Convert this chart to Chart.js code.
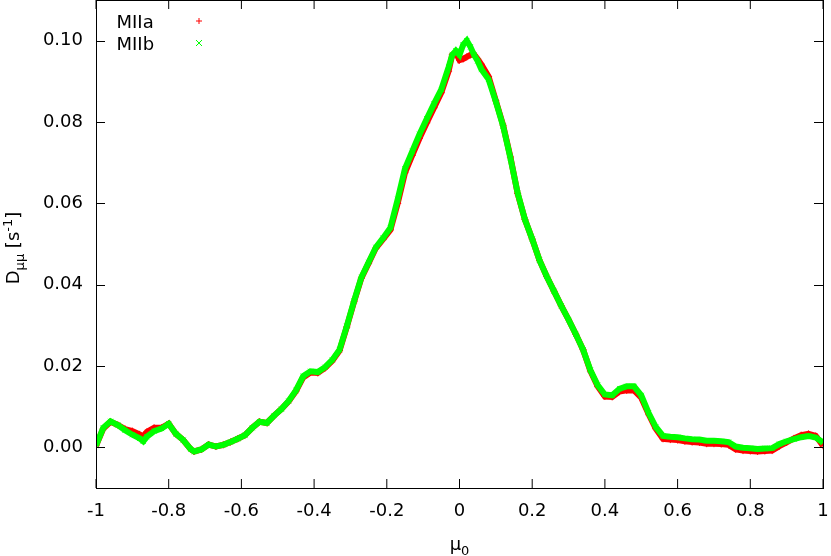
<!DOCTYPE html>
<html><head><meta charset="utf-8">
<script src="https://cdn.jsdelivr.net/npm/chart.js@4/dist/chart.umd.min.js"></script>
<style>html,body{margin:0;padding:0;background:#fff}#wrap{width:831px;height:556px;position:relative}</style>
</head><body><div id="wrap"><canvas id="c"></canvas></div>
<script>
// ---- data ----
const mu = [-1.00,-0.98,-0.96,-0.94,-0.92,-0.90,-0.88,-0.87,-0.86,-0.84,-0.82,-0.80,-0.78,-0.76,-0.74,-0.73,-0.71,-0.69,-0.67,-0.65,-0.63,-0.61,-0.59,-0.57,-0.55,-0.53,-0.51,-0.49,-0.47,-0.45,-0.43,-0.41,-0.39,-0.37,-0.35,-0.33,-0.31,-0.29,-0.27,-0.25,-0.23,-0.21,-0.19,-0.17,-0.15,-0.13,-0.11,-0.09,-0.07,-0.05,-0.03,-0.02,-0.01,0.00,0.01,0.02,0.03,0.04,0.05,0.06,0.08,0.10,0.12,0.14,0.16,0.18,0.20,0.22,0.24,0.26,0.28,0.30,0.32,0.34,0.36,0.38,0.40,0.42,0.44,0.46,0.48,0.50,0.52,0.54,0.56,0.58,0.60,0.62,0.64,0.66,0.68,0.70,0.72,0.74,0.76,0.78,0.80,0.82,0.84,0.86,0.88,0.90,0.92,0.94,0.96,0.98,1.00];
const miiA = [0.0004,0.0046,0.0063,0.0055,0.0045,0.0040,0.0032,0.0027,0.0038,0.0048,0.0048,0.0058,0.0033,0.0018,-0.0004,-0.0010,-0.0005,0.0007,0.0002,0.0006,0.0013,0.0021,0.0030,0.0048,0.0063,0.0060,0.0078,0.0094,0.0113,0.0138,0.0172,0.0184,0.0183,0.0195,0.0213,0.0238,0.0296,0.0358,0.0416,0.0453,0.0490,0.0512,0.0535,0.0600,0.0675,0.0718,0.0760,0.0798,0.0835,0.0872,0.0925,0.0965,0.0970,0.0952,0.0955,0.0960,0.0965,0.0966,0.0955,0.0942,0.0912,0.0852,0.0792,0.0714,0.0624,0.0560,0.0512,0.0460,0.0420,0.0384,0.0348,0.0314,0.0278,0.0240,0.0188,0.0150,0.0125,0.0124,0.0137,0.0140,0.0140,0.0122,0.0082,0.0046,0.0021,0.0019,0.0018,0.0015,0.0013,0.0012,0.0009,0.0009,0.0008,0.0006,-0.0005,-0.0008,-0.0009,-0.0010,-0.0009,-0.0008,0.0003,0.0012,0.0022,0.0030,0.0033,0.0028,0.0004];
const miiB = [0.0004,0.0048,0.0064,0.0055,0.0042,0.0031,0.0022,0.0015,0.0026,0.0040,0.0046,0.0058,0.0033,0.0018,-0.0004,-0.0010,-0.0005,0.0007,0.0002,0.0006,0.0013,0.0021,0.0030,0.0048,0.0063,0.0060,0.0078,0.0094,0.0114,0.0140,0.0175,0.0187,0.0185,0.0197,0.0215,0.0240,0.0298,0.0360,0.0418,0.0455,0.0492,0.0515,0.0540,0.0610,0.0685,0.0728,0.0770,0.0808,0.0845,0.0880,0.0935,0.0965,0.0975,0.0965,0.0990,0.1000,0.0985,0.0965,0.0950,0.0930,0.0905,0.0850,0.0790,0.0712,0.0625,0.0560,0.0512,0.0460,0.0420,0.0384,0.0348,0.0314,0.0278,0.0240,0.0190,0.0153,0.0130,0.0128,0.0144,0.0150,0.0150,0.0128,0.0085,0.0050,0.0028,0.0026,0.0025,0.0022,0.0020,0.0019,0.0016,0.0016,0.0015,0.0013,0.0002,-0.0001,-0.0002,-0.0004,-0.0003,-0.0002,0.0008,0.0015,0.0020,0.0025,0.0028,0.0024,0.0012];
const seriesNames = ['MIIa','MIIb'];
const xTicks = [-1,-0.8,-0.6,-0.4,-0.2,0,0.2,0.4,0.6,0.8,1];
const yTicks = [0,0.02,0.04,0.06,0.08,0.10];
const xRange = [-1, 1];
const yRange = [-0.01, 0.11];

const RED = '#ff0000', GREEN = '#00ff00';
const FONT = '"DejaVu Sans", sans-serif';
const toPts = (ys) => mu.map((m, i) => ({x: m, y: ys[i]}));

function drawRich(ctx, parts) {
  let total = 0;
  for (const p of parts) { ctx.font = p.size + 'px ' + FONT; total += ctx.measureText(p.t).width; }
  let cx = -total / 2;
  for (const p of parts) {
    ctx.font = p.size + 'px ' + FONT;
    ctx.fillText(p.t, cx, p.dy);
    cx += ctx.measureText(p.t).width;
  }
}

const framePlugin = {
  id: 'frame',
  afterDraw(chart) {
    const {ctx, chartArea: a, scales: {x, y}} = chart;
    ctx.save();
    ctx.strokeStyle = '#000';
    ctx.lineWidth = 1;
    ctx.strokeRect(a.left + 0.5, a.top + 0.5, a.right - a.left, a.bottom - a.top);
    const tl = 9;
    ctx.beginPath();
    for (const v of xTicks) {
      const px = x.getPixelForValue(v);
      ctx.moveTo(px, a.bottom); ctx.lineTo(px, a.bottom - tl);
      ctx.moveTo(px, a.top); ctx.lineTo(px, a.top + tl);
    }
    for (const v of yTicks) {
      const py = Math.round(y.getPixelForValue(v)) + 0.5;
      ctx.moveTo(a.left, py); ctx.lineTo(a.left + tl, py);
      ctx.moveTo(a.right, py); ctx.lineTo(a.right - tl, py);
    }
    ctx.stroke();

    // legend (gnuplot style: text then marker)
    ctx.fillStyle = '#000';
    ctx.font = '18px ' + FONT;
    ctx.textAlign = 'left';
    ctx.textBaseline = 'alphabetic';
    ctx.fillText(seriesNames[0], 116.5, 28.3);
    ctx.fillText(seriesNames[1], 116.5, 50);
    const r = 3;
    ctx.lineWidth = 1;
    ctx.strokeStyle = RED;
    ctx.beginPath();
    ctx.moveTo(199 - r, 21); ctx.lineTo(199 + r, 21);
    ctx.moveTo(199, 21 - r); ctx.lineTo(199, 21 + r);
    ctx.stroke();
    ctx.strokeStyle = GREEN;
    ctx.beginPath();
    ctx.moveTo(199 - r, 43 - r); ctx.lineTo(199 + r, 43 + r);
    ctx.moveTo(199 - r, 43 + r); ctx.lineTo(199 + r, 43 - r);
    ctx.stroke();

    // axis titles
    ctx.fillStyle = '#000';
    ctx.textAlign = 'left';
    ctx.save();
    ctx.translate((a.left + a.right) / 2, 549.5);
    drawRich(ctx, [{t: 'μ', size: 18, dy: 0}, {t: '0', size: 13, dy: 5}]);
    ctx.restore();
    ctx.save();
    ctx.translate(18.5, (a.top + a.bottom) / 2 + 4);
    ctx.rotate(-Math.PI / 2);
    drawRich(ctx, [
      {t: 'D', size: 18, dy: 0},
      {t: 'μμ', size: 13, dy: 5},
      {t: ' [s', size: 18, dy: 0},
      {t: '-1', size: 13, dy: -7},
      {t: ']', size: 18, dy: 0}
    ]);
    ctx.restore();
    ctx.restore();
  }
};

new Chart(document.getElementById('c'), {
  type: 'scatter',
  data: {
    datasets: [
      {label: seriesNames[0], data: toPts(miiA), order: 1, showLine: true,
       borderColor: RED, backgroundColor: RED, borderWidth: 6,
       pointStyle: 'cross', pointRadius: 3.5, pointBorderWidth: 1, pointBorderColor: RED},
      {label: seriesNames[1], data: toPts(miiB), order: 0, showLine: true,
       borderColor: GREEN, backgroundColor: GREEN, borderWidth: 6,
       pointStyle: 'crossRot', pointRadius: 3.5, pointBorderWidth: 1, pointBorderColor: GREEN}
    ]
  },
  options: {
    responsive: true, maintainAspectRatio: false, animation: false,
    layout: {autoPadding: false, padding: {left: 0, right: 8, top: 0, bottom: 0}},
    plugins: {legend: {display: false}, tooltip: {enabled: false}},
    scales: {
      x: {
        type: 'linear', min: xRange[0], max: xRange[1],
        afterBuildTicks: (s) => { s.ticks = xTicks.map(v => ({value: v})); },
        afterFit: (s) => { s.height = 68; s.paddingLeft = 0; s.paddingRight = 0; },
        grid: {display: false, drawTicks: false},
        border: {display: false},
        ticks: {padding: 13, color: '#000', font: {family: FONT, size: 18}, maxRotation: 0,
                callback: (v) => String(Math.round(v * 10) / 10)}
      },
      y: {
        type: 'linear', min: yRange[0], max: yRange[1],
        afterBuildTicks: (s) => { s.ticks = yTicks.map(v => ({value: v})); },
        afterFit: (s) => { s.width = 96; s.paddingTop = 0; s.paddingBottom = 0; },
        grid: {display: false, drawTicks: false},
        border: {display: false},
        ticks: {padding: 13, color: '#000', font: {family: FONT, size: 18},
                callback: (v) => Number(v).toFixed(2)}
      }
    }
  },
  plugins: [framePlugin]
});
</script>
</body></html>
